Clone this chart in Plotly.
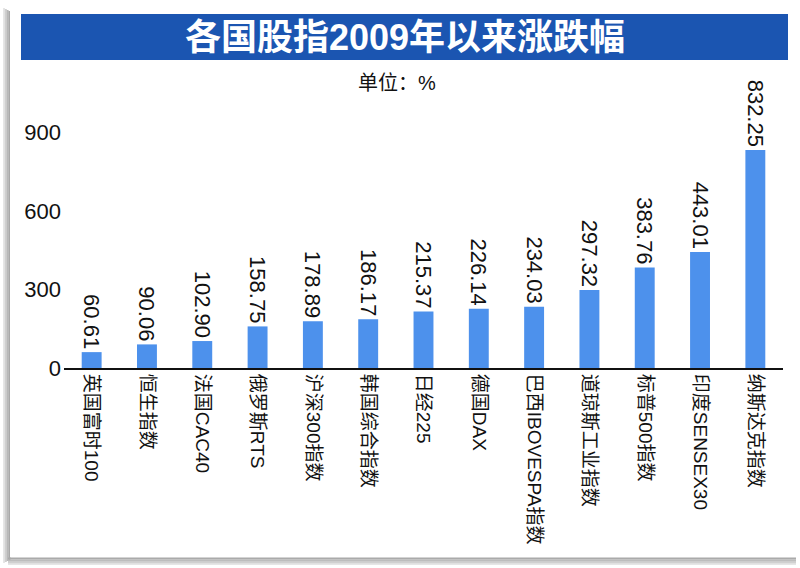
import plotly.graph_objects as go

categories = ["英国富时100", "恒生指数", "法国CAC40", "俄罗斯RTS", "沪深300指数", "韩国综合指数",
              "日经225", "德国DAX", "巴西IBOVESPA指数", "道琼斯工业指数", "标普500指数",
              "印度SENSEX30", "纳斯达克指数"]
values = [60.61, 90.06, 102.90, 158.75, 178.89, 186.17, 215.37, 226.14, 234.03, 297.32,
          383.76, 443.01, 832.25]
value_labels = ["60.61", "90.06", "102.90", "158.75", "178.89", "186.17", "215.37", "226.14",
                "234.03", "297.32", "383.76", "443.01", "832.25"]
y_ticks = [0, 300, 600, 900]

W, H = 800, 568
L, R, T, B = 64, 17, 106, 200
PW, PH = W - L - R, H - T - B

def px(x):
    return (x - L) / PW

def py(y):
    return (H - B - y) / PH

FONT = "Liberation Sans, Arial, Noto Sans CJK SC, sans-serif"

fig = go.Figure(go.Bar(
    x=categories, y=values, text=value_labels, textposition="outside", textangle=90,
    textfont=dict(family=FONT, size=22, color="#111111"), constraintext="none",
    marker=dict(color="#4d91ec", line=dict(width=0)), cliponaxis=False,
    width=0.36, hoverinfo="skip",
))

shapes = []
# shadow on left and bottom
for i, c in enumerate(["#e6e6e6", "#cfcfcf", "#b8b8b8", "#a8a8a8"]):
    shapes.append(dict(type="rect", xref="paper", yref="paper",
                       x0=px(3 + i * 1.8), x1=px(5 + i * 1.8), y0=py(563 - i), y1=py(8 + i),
                       fillcolor=c, line=dict(width=0), layer="below"))
for i, c in enumerate(["#e6e6e6", "#d0d0d0", "#bdbdbd", "#aaaaaa"]):
    shapes.append(dict(type="rect", xref="paper", yref="paper",
                       x0=px(8), x1=px(796), y0=py(565 - i * 1.8), y1=py(563 - i * 1.8),
                       fillcolor=c, line=dict(width=0), layer="below"))
# white card
shapes.append(dict(type="rect", xref="paper", yref="paper",
                   x0=px(10), x1=px(796), y0=py(557), y1=py(0),
                   fillcolor="white", line=dict(width=0), layer="below"))
# title bar
shapes.append(dict(type="rect", xref="paper", yref="paper",
                   x0=px(21), x1=px(788), y0=py(60), y1=py(14),
                   fillcolor="#1b55b1", line=dict(width=0), layer="below"))

annotations = [
    dict(text="<b>各国股指2009年以来涨跌幅</b>", xref="paper", yref="paper",
         x=px(405), y=py(37), xanchor="center", yanchor="middle", showarrow=False,
         font=dict(family="Liberation Sans, Noto Sans CJK SC", size=36, color="white")),
    dict(text="单位：%", xref="paper", yref="paper",
         x=px(397), y=py(83), xanchor="center", yanchor="middle", showarrow=False,
         font=dict(family=FONT, size=20, color="#111111")),
]

fig.update_layout(
    width=W, height=H, margin=dict(l=L, r=R, t=T, b=B),
    paper_bgcolor="white", plot_bgcolor="rgba(0,0,0,0)",
    showlegend=False, shapes=shapes, annotations=annotations,
    font=dict(family=FONT, color="#111111"),
    xaxis=dict(tickangle=90, tickfont=dict(family=FONT, size=19, color="#111111"),
               showline=True, linecolor="#111111", linewidth=2, ticks="",
               showgrid=False, zeroline=False, fixedrange=True),
    yaxis=dict(range=[0, 1000], tickvals=y_ticks, ticktext=[str(v) for v in y_ticks],
               tickfont=dict(family=FONT, size=22, color="#111111"),
               showgrid=False, zeroline=False, showline=False, ticks="",
               ticklabelstandoff=2, fixedrange=True),
)

fig.write_html("out.html", config={"displayModeBar": False, "staticPlot": True},
               post_script="document.body.style.margin='0';document.body.style.padding='0';")
